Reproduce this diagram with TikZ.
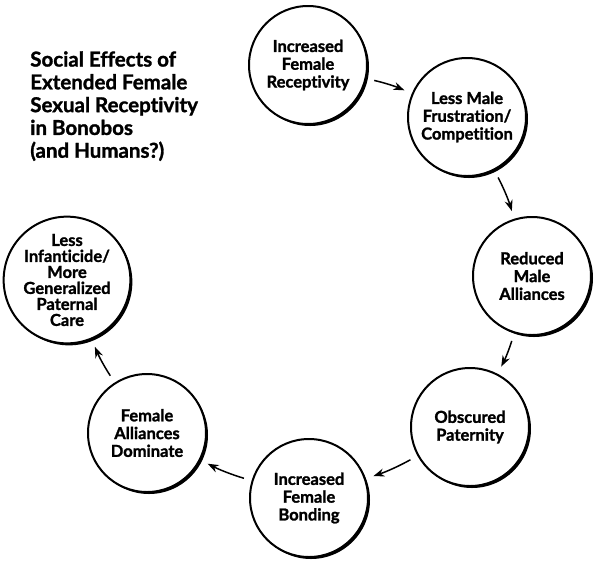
\documentclass[tikz,border=0pt]{standalone}
\usepackage{fontspec}
\setmainfont{Lato}[Ligatures={NoCommon}, BoldFeatures={FakeBold=1.4}]
\usepackage{tikz}
\usetikzlibrary{arrows,arrows.meta,positioning,shadows,shapes}

\begin{document}
\begin{tikzpicture}[x=1pt, y=-1pt, ->, >={Stealth[length=11pt, width=8pt]}, semithick,
    every effect/.style={circle, draw, line width=2pt, fill=white,
      minimum size=118pt, inner sep=0pt, align=center,
      font=\fontsize{16.5}{17.8}\selectfont\bfseries,
      drop shadow={shadow xshift=2pt, shadow yshift=-2pt, fill=black, opacity=1}},
    link/.style={shorten >=8pt, shorten <=8pt, line width=1.5pt, bend left=5}
    ]
\useasboundingbox (0,0) rectangle (600,566);
% \draw[help lines] (0,0) grid (600,566);
\node[anchor=north west, align=left, inner sep=0pt,
      font=\fontsize{20.5}{22.8}\selectfont\bfseries] (title) at (30,51)
  {Social Effects of\\Extended Female\\Sexual Receptivity\\in Bonobos\\(and Humans?)};

\node[every effect] (receptivity) at (308,65)  {Increased\\Female\\Receptivity};
\node[every effect] (frustration) at (467,117) {Less Male\\Frustration/\\Competition};
\node[every effect] (malealli)    at (532,276) {Reduced\\Male\\Alliances};
\node[every effect] (paternity)   at (470,427) {Obscured\\Paternity};
\node[every effect] (bonding)     at (309,498) {Increased\\Female\\Bonding};
\node[every effect] (femalealli)  at (147,433) {Female\\Alliances\\Dominate};
\node[every effect, font=\fontsize{16.5}{16}\selectfont\bfseries]
      (infanticide) at (67,280) {Less\\Infanticide/\\More\\Generalized\\Paternal\\Care};

\path
(receptivity) edge [link] (frustration)
(frustration) edge [link] (malealli)
(malealli)    edge [link] (paternity)
(paternity)   edge [link] (bonding)
(bonding)     edge [link] (femalealli)
(femalealli)  edge [link] (infanticide)
;
\end{tikzpicture}
\end{document}
